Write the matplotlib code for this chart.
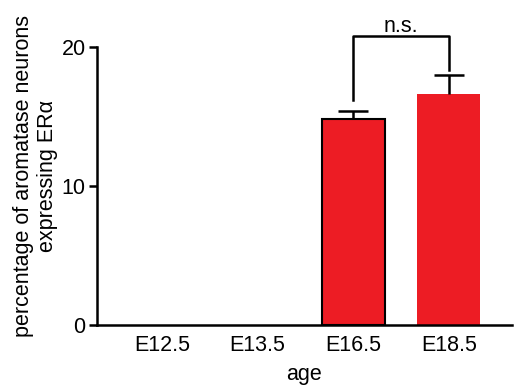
import matplotlib
matplotlib.use("Agg")
import matplotlib.pyplot as plt

# ---- Data ----
AGES = ["E12.5", "E13.5", "E16.5", "E18.5"]
PCT = [0.0, 0.0, 14.8, 16.6]          # mean percentage
SEM = [0.0, 0.0, 0.6, 1.35]           # upper error
BRACKET_Y = 20.8                       # n.s. bracket height
BRACKET_LEGS = [16.2, 18.35]           # bracket leg bottoms
RED = "#ED1C24"
FS = 15.5

plt.rcParams["font.family"] = ["Liberation Sans", "DejaVu Sans"]

fig = plt.figure(figsize=(5.15, 3.88), dpi=100)
ax = fig.add_axes([0.188, 0.162, 0.806, 0.717])

x = list(range(len(AGES)))
edges = ["none", "none", "black", "none"]
ax.bar(x, PCT, width=0.66, color=RED, edgecolor=edges, linewidth=1.5, zorder=2)
_, caps, _ = ax.errorbar(x[2:], PCT[2:], yerr=[[0, 0], SEM[2:]], fmt="none",
                         ecolor="black", elinewidth=1.8, capsize=11,
                         capthick=1.8, zorder=3)
# keep only the upper caps
for c in caps:
    if list(c.get_ydata()) == PCT[2:]:
        c.set_visible(False)

# significance bracket
i, j = 2, 3
ax.plot([x[i], x[i], x[j], x[j]],
        [BRACKET_LEGS[0], BRACKET_Y, BRACKET_Y, BRACKET_LEGS[1]],
        color="black", lw=1.8, clip_on=False)
ax.text((x[i] + x[j]) / 2, BRACKET_Y - 0.1, "n.s.", ha="center", va="bottom",
        fontsize=FS)

ax.set_xlim(-0.68, 3.66)
ax.set_ylim(0, 20)
ax.set_yticks([0, 10, 20])
ax.set_xticks(x)
ax.set_xticklabels(AGES)
ax.tick_params(axis="x", length=0, labelsize=FS, pad=7)
ax.tick_params(axis="y", length=6, width=1.8, labelsize=FS, pad=2)
for s in ("top", "right"):
    ax.spines[s].set_visible(False)
for s in ("left", "bottom"):
    ax.spines[s].set_linewidth(1.8)

ax.set_xlabel("age", fontsize=FS, labelpad=6)
ax.set_ylabel("percentage of aromatase neurons\nexpressing ER\u03b1", fontsize=FS,
              linespacing=1.15)
ax.yaxis.set_label_coords(-0.094, 0.535)

fig.savefig("out.png", dpi=100)
